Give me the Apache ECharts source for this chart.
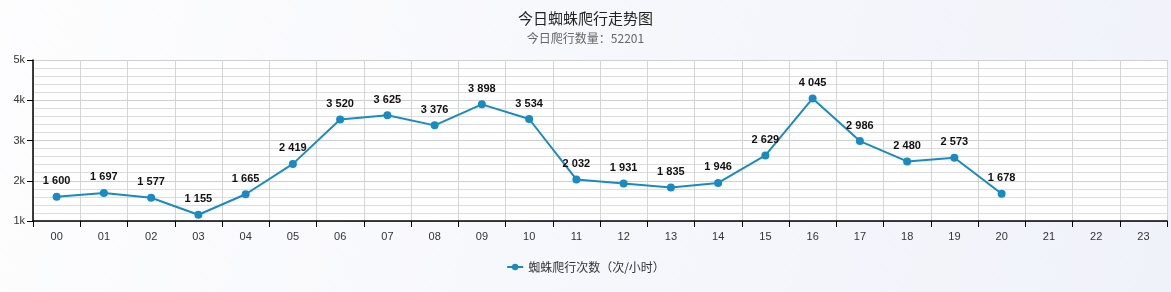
<!DOCTYPE html>
<html><head><meta charset="utf-8">
<script src="https://cdn.jsdelivr.net/npm/echarts@6/dist/echarts.min.js"></script>
<style>html,body{margin:0;padding:0;}#c{width:1171px;height:292px;}</style>
</head><body><div id="c"></div>
<script>
const categories = ['00','01','02','03','04','05','06','07','08','09','10','11','12','13','14','15','16','17','18','19','20','21','22','23'];
const crawlCounts = [1600,1697,1577,1155,1665,2419,3520,3625,3376,3898,3534,2032,1931,1835,1946,2629,4045,2986,2480,2573,1678,null,null,null];
const seriesName = '蜘蛛爬行次数（次/小时）';
const titleText = '今日蜘蛛爬行走势图';
const subText = '今日爬行数量：52201';

const chart = echarts.init(document.getElementById('c'));
chart.setOption({
  backgroundColor: new echarts.graphic.LinearGradient(0,0,1,1,[{offset:0,color:'#fdfdfe'},{offset:1,color:'#f0f2fa'}]),
  animation: false,
  title: {
    text: titleText, subtext: subText, left: 'center', top: 6, itemGap: 6,
    textStyle: {fontSize: 15, fontWeight: 'normal', color: '#222', fontFamily: 'Noto Sans CJK SC'},
    subtextStyle: {fontSize: 12, color: '#666', fontFamily: 'Noto Sans CJK SC'}
  },
  legend: {
    bottom: 14, left: 'center', itemWidth: 16, itemHeight: 8,
    textStyle: {fontSize: 12, color: '#333', fontFamily: 'Noto Sans CJK SC'}
  },
  grid: {left: 33, right: 4, top: 60, bottom: 71, show: true, backgroundColor: '#ffffff', borderWidth: 0},
  xAxis: {
    type: 'category', data: categories, boundaryGap: true,
    axisLine: {lineStyle: {color: '#000', width: 1.5}},
    axisTick: {show: true, length: 6, lineStyle: {color: '#000'}},
    axisLabel: {color: '#333', fontSize: 11, margin: 10},
    splitLine: {show: true, lineStyle: {color: '#d4d4d4'}}
  },
  yAxis: {
    type: 'value', min: 1000, max: 5000, interval: 1000,
    axisLine: {show: true, lineStyle: {color: '#000', width: 1.5}},
    axisTick: {show: true, length: 6, lineStyle: {color: '#000'}},
    axisLabel: {color: '#333', fontSize: 11, margin: 8, formatter: v => (v/1000) + 'k'},
    splitLine: {show: true, lineStyle: {color: '#cfcfcf'}},
    minorTick: {show: false, splitNumber: 5},
    minorSplitLine: {show: true, lineStyle: {color: '#dedede'}}
  },
  series: [{
    name: seriesName, type: 'line', data: crawlCounts,
    symbol: 'circle', symbolSize: 8,
    itemStyle: {color: '#1a8bc0'},
    lineStyle: {width: 2, color: '#1a8bc0'},
    label: {
      show: true, position: 'top', distance: 6, color: '#111', fontSize: 11, fontWeight: 'bold',
      formatter: p => String(p.value).replace(/\B(?=(\d{3})+(?!\d))/g, ' ')
    }
  }]
});
</script></body></html>
